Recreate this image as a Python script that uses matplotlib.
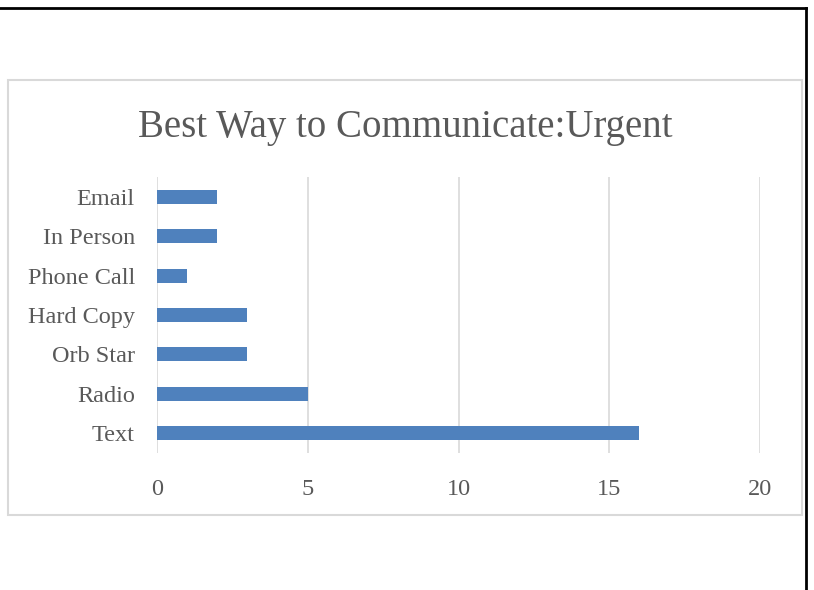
import matplotlib.pyplot as plt
from matplotlib.patches import Rectangle
from matplotlib.lines import Line2D

categories = ['Text', 'Radio', 'Orb Star', 'Hard Copy', 'Phone Call', 'In Person', 'Email']
counts = [16, 5, 3, 3, 1, 2, 2]
xticks = [0, 5, 10, 15, 20]

bar_color = '#4f81bd'
text_color = '#595959'
grid_color = '#d9d9d9'

plt.rcParams['font.family'] = ['Liberation Serif', 'DejaVu Serif']

fig = plt.figure(figsize=(8.14, 5.90), dpi=100)

# page border lines (top and right)
fig.add_artist(Line2D([0, 806 / 814], [1 - 8 / 590, 1 - 8 / 590], color='black', lw=2))
fig.add_artist(Line2D([806 / 814, 806 / 814], [1 - 8 / 590, 0], color='black', lw=2))

# chart frame
fig.add_artist(Rectangle((8 / 814, 1 - 515 / 590), 794 / 814, 435 / 590,
                         fill=False, edgecolor=grid_color, lw=1.5))

ax = fig.add_axes([157 / 814, 1 - 453 / 590, 603 / 814, 276 / 590])
ax.barh(range(len(categories)), counts, height=0.355, color=bar_color, zorder=3)
ax.set_xlim(0, 20)
ax.set_ylim(-0.5, len(categories) - 0.5)
ax.set_xticks(xticks)
ax.set_xticklabels([str(t) for t in xticks])
ax.set_yticks(range(len(categories)))
ax.set_yticklabels(categories)
ax.grid(axis='x', color=grid_color, lw=1.2, zorder=0)
for s in ax.spines.values():
    s.set_visible(False)
ax.tick_params(length=0, colors=text_color, labelsize=17.5)
ax.tick_params(axis='x', pad=19)
ax.tick_params(axis='y', pad=16)

fig.text(405 / 814, 1 - 127 / 590, 'Best Way to Communicate:Urgent',
         ha='center', va='center', fontsize=28, color=text_color)

fig.savefig('out.png', dpi=100)
